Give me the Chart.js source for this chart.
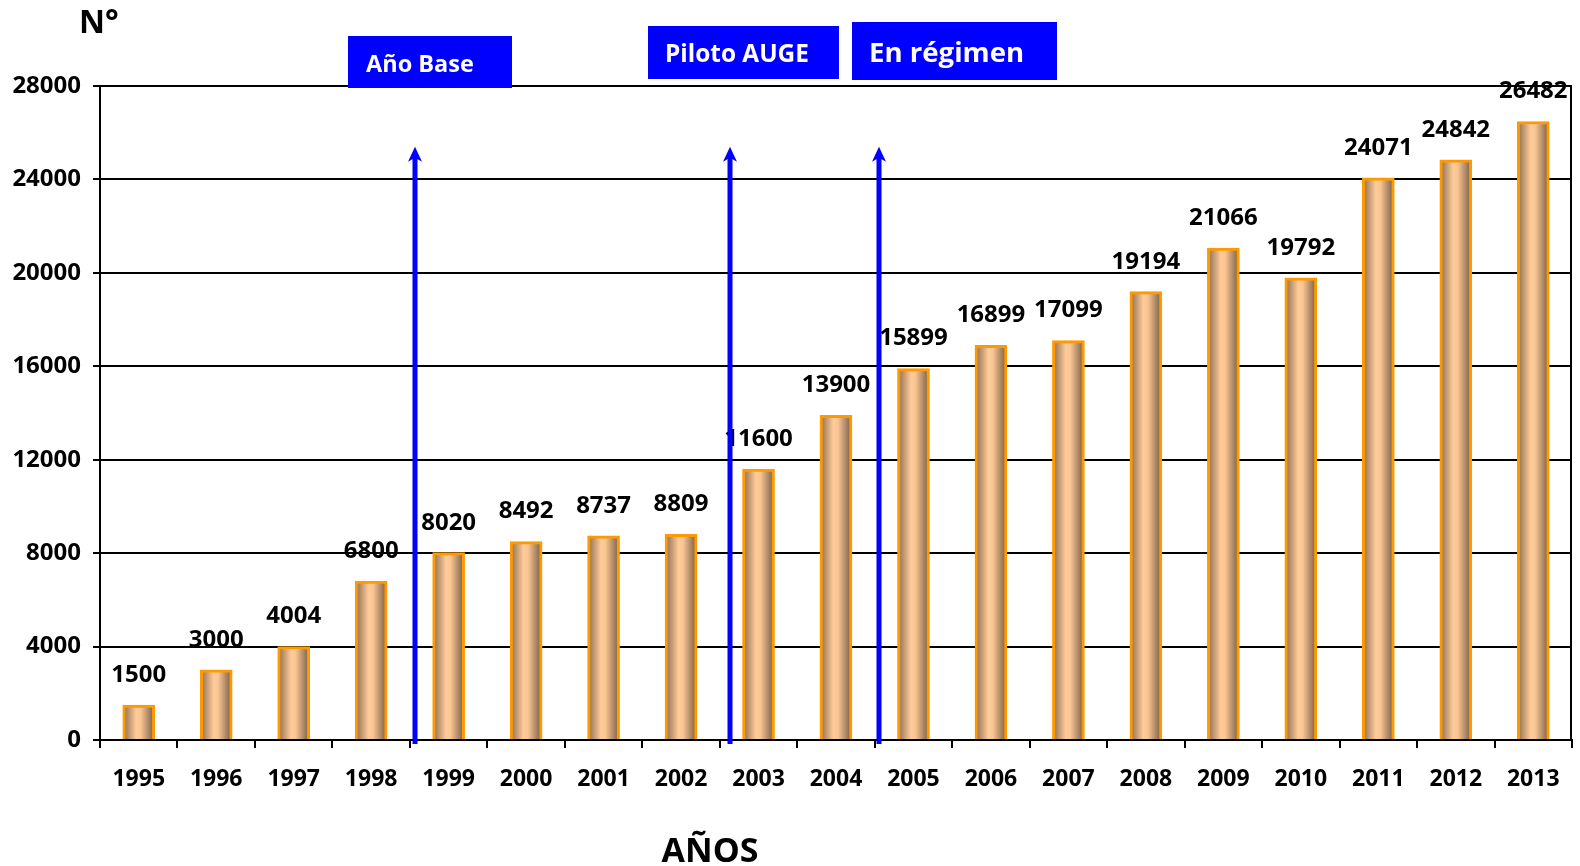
<!DOCTYPE html>
<html><head><meta charset="utf-8">
<script src="https://cdn.jsdelivr.net/npm/chart.js@4/dist/chart.umd.min.js"></script>
<style>html,body{margin:0;padding:0;background:#fff;}#wrap{width:1580px;height:866px;position:relative;}</style>
</head><body><div id="wrap"><canvas id="c" width="1580" height="866"></canvas></div>
<script>
const categories = ['1995','1996','1997','1998','1999','2000','2001','2002','2003','2004','2005','2006','2007','2008','2009','2010','2011','2012','2013'];
const values = [1500,3000,4004,6800,8020,8492,8737,8809,11600,13900,15899,16899,17099,19194,21066,19792,24071,24842,26482];
const yMin = 0, yMax = 28000, yStep = 4000;
const milestoneLabels = ['Año Base','Piloto AUGE','En régimen'];
const milestoneAt = [3.57, 7.63, 9.55]; // arrow position in category units
const yTitle = 'N°';
const xTitle = 'AÑOS';

const FONT = '"Open Sans", Lato, sans-serif';
const BAR_W = 32;

function barFill(ctx){
  const chart = ctx.chart; const xs = chart.scales && chart.scales.x;
  if(!xs || ctx.type !== 'data' || !isFinite(xs.getPixelForValue(ctx.dataIndex))) return '#FFCC99';
  const cx = xs.getPixelForValue(ctx.dataIndex);
  const g = chart.ctx.createLinearGradient(cx - BAR_W/2, 0, cx + BAR_W/2, 0);
  g.addColorStop(0, '#86684E');
  g.addColorStop(0.42, '#FFCB98');
  g.addColorStop(0.56, '#F9C593');
  g.addColorStop(1, '#725943');
  return g;
}

function fitFont(c, text, target, weight){
  c.font = weight + ' 100px ' + FONT;
  const w = c.measureText(text).width;
  return 100 * target / w;
}

const decor = {
  id: 'decor',
  afterDatasetsDraw(chart){
    const c = chart.ctx, xs = chart.scales.x, ys = chart.scales.y, a = chart.chartArea;
    c.save();
    c.strokeStyle = '#000'; c.lineWidth = 2;
    c.beginPath(); c.moveTo(a.right - 1, a.top); c.lineTo(a.right - 1, a.bottom); c.stroke();
    const meta = chart.getDatasetMeta(0);
    c.fillStyle = '#000'; c.font = 'bold 24px ' + FONT; c.textAlign = 'center'; c.textBaseline = 'middle';
    meta.data.forEach((bar, i) => { c.fillText(String(values[i]), bar.x, bar.y - 30); });
    c.strokeStyle = '#0000FF'; c.fillStyle = '#0000FF';
    const tipY = ys.getPixelForValue(25400);
    milestoneAt.forEach(v => {
      const x = Math.round(xs.getPixelForValue(v));
      c.lineWidth = 5;
      c.beginPath(); c.moveTo(x, a.bottom + 4); c.lineTo(x, tipY + 10); c.stroke();
      c.beginPath(); c.moveTo(x, tipY); c.lineTo(x - 7, tipY + 15); c.lineTo(x, tipY + 11); c.lineTo(x + 7, tipY + 15); c.closePath(); c.fill();
    });
    const boxes = [
      {x:348, y:36, w:164, h:52, tx:366, ty:65, tw:108},
      {x:648, y:26, w:191, h:53, tx:665, ty:55, tw:144},
      {x:852, y:22, w:205, h:58, tx:869, ty:54, tw:155}
    ];
    boxes.forEach((b, i) => {
      c.fillStyle = '#0000FF'; c.fillRect(b.x, b.y, b.w, b.h);
      const size = fitFont(c, milestoneLabels[i], b.tw, 'bold');
      c.fillStyle = '#fff'; c.font = 'bold ' + size.toFixed(1) + 'px ' + FONT; c.textAlign = 'left'; c.textBaseline = 'middle';
      c.fillText(milestoneLabels[i], b.tx, b.ty);
    });
    c.fillStyle = '#000'; c.textAlign = 'left'; c.textBaseline = 'middle';
    c.font = 'bold 32px ' + FONT; c.fillText(yTitle, 79, 24);
    c.textAlign = 'center'; c.font = 'bold 34px ' + FONT; c.fillText(xTitle, 710, 852);
    c.restore();
  }
};

new Chart(document.getElementById('c'), {
  type: 'bar',
  data: { labels: categories, datasets: [{ data: values, backgroundColor: barFill, borderColor: '#FF9900', borderWidth: 3, borderSkipped: 'bottom', barThickness: BAR_W }] },
  options: {
    responsive: false, animation: false, devicePixelRatio: 1,
    layout: { padding: { top: 86, right: 8, left: 0, bottom: 0 } },
    plugins: { legend: { display: false }, tooltip: { enabled: false } },
    scales: {
      x: {
        offset: true,
        grid: { display: true, drawOnChartArea: false, drawTicks: true, tickLength: 8, color: '#000', lineWidth: 2, offset: true },
        border: { display: true, color: '#000', width: 2 },
        ticks: { color: '#000', font: { family: FONT, size: 23, weight: 'bold' }, padding: 18, maxRotation: 0, autoSkip: false },
        afterFit(s){ s.height = 126; }
      },
      y: {
        min: yMin, max: yMax,
        grid: { color: '#000', lineWidth: 2, tickLength: 7 },
        border: { display: true, color: '#000', width: 2 },
        ticks: { stepSize: yStep, color: '#000', font: { family: FONT, size: 24, weight: 'bold' }, padding: 12, callback: v => String(v) },
        afterFit(s){ s.width = 100; }
      }
    }
  },
  plugins: [decor]
});
</script></body></html>
